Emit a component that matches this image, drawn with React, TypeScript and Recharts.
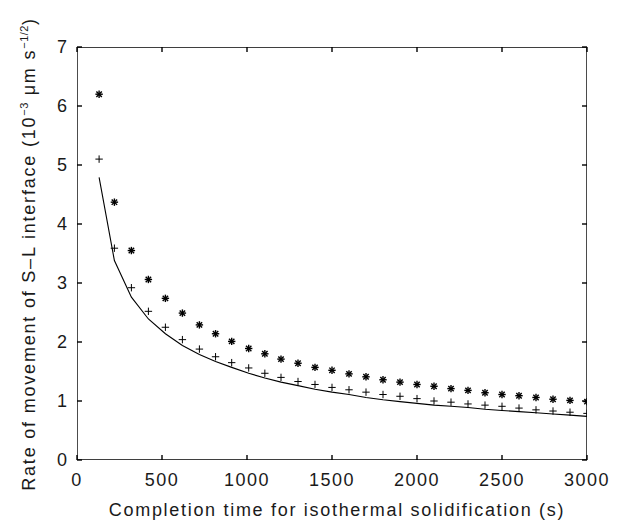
import {FC} from "react";
import {ComposedChart, Scatter, Line, XAxis, YAxis} from "recharts";

const times = [130, 220, 320, 420, 520, 620, 720, 815, 910, 1010, 1105, 1200, 1300, 1400, 1500,
  1600, 1700, 1800, 1900, 2000, 2100, 2200, 2300, 2400, 2500, 2600, 2700, 2800, 2900, 3000];
const starRates = [6.20, 4.37, 3.55, 3.06, 2.74, 2.49, 2.29, 2.14, 2.01, 1.89, 1.80, 1.71, 1.64, 1.57, 1.52,
  1.46, 1.41, 1.36, 1.32, 1.28, 1.25, 1.21, 1.18, 1.14, 1.11, 1.09, 1.06, 1.03, 1.01, 0.99];
const plusRates = [5.10, 3.59, 2.92, 2.52, 2.25, 2.04, 1.88, 1.75, 1.65, 1.56, 1.47, 1.40, 1.33, 1.28, 1.23,
  1.19, 1.15, 1.11, 1.08, 1.04, 1.00, 0.98, 0.95, 0.93, 0.91, 0.88, 0.85, 0.83, 0.81, 0.79];
const lineRates = [4.79, 3.38, 2.76, 2.39, 2.14, 1.94, 1.79, 1.67, 1.57, 1.47, 1.39, 1.32, 1.26, 1.20, 1.15,
  1.11, 1.06, 1.02, 0.99, 0.96, 0.93, 0.91, 0.89, 0.86, 0.84, 0.82, 0.80, 0.78, 0.76, 0.74];
const xTicks = [0, 500, 1000, 1500, 2000, 2500, 3000];
const yTicks = [0, 1, 2, 3, 4, 5, 6, 7];

const starData = times.map((t, i) => ({x: t, y: starRates[i]}));
const plusData = times.map((t, i) => ({x: t, y: plusRates[i]}));
const lineData = times.map((t, i) => ({x: t, y: lineRates[i]}));

// plot border, traced along the axis ends
const xMin = xTicks[0];
const xMax = xTicks[xTicks.length - 1];
const yMin = yTicks[0];
const yMax = yTicks[yTicks.length - 1];
const frameData = [
  {x: xMin, y: yMin},
  {x: xMin, y: yMax},
  {x: xMax, y: yMax},
  {x: xMax, y: yMin},
  {x: xMin, y: yMin},
];

const FONT = "'Liberation Sans', Arial, sans-serif";
const INK = "#1a1a1a";
const TICK = 5;

const Star = (props: any) => {
  const {cx, cy} = props;
  const r = 3.7;
  const d = 2.7;
  return (
    <g stroke="#000" strokeWidth={1.4}>
      <line x1={cx - r} y1={cy} x2={cx + r} y2={cy}/>
      <line x1={cx} y1={cy - r} x2={cx} y2={cy + r}/>
      <line x1={cx - d} y1={cy - d} x2={cx + d} y2={cy + d}/>
      <line x1={cx - d} y1={cy + d} x2={cx + d} y2={cy - d}/>
    </g>
  );
};

const Plus = (props: any) => {
  const {cx, cy} = props;
  const r = 3.7;
  return (
    <g stroke="#000" strokeWidth={1}>
      <line x1={cx - r} y1={cy} x2={cx + r} y2={cy}/>
      <line x1={cx} y1={cy - r} x2={cx} y2={cy + r}/>
    </g>
  );
};

// ticks point into the plot, gnuplot style
const BottomTick = (props: any) => {
  const {x, y, payload} = props;
  return (
    <g>
      <line x1={x} y1={y} x2={x} y2={y - TICK} stroke="#000" strokeWidth={1.4}/>
      <text x={x} y={y + 13} dy="0.71em" textAnchor="middle" fontFamily={FONT} fontSize={18}
            letterSpacing={1.5} fill={INK}>
        {payload.value}
      </text>
    </g>
  );
};

const LeftTick = (props: any) => {
  const {x, y, payload} = props;
  return (
    <g>
      <line x1={x} y1={y} x2={x + TICK} y2={y} stroke="#000" strokeWidth={1.4}/>
      <text x={x - 10} y={y} dy="0.36em" textAnchor="end" fontFamily={FONT} fontSize={18} fill={INK}>
        {payload.value}
      </text>
    </g>
  );
};

const TopTick = (props: any) => {
  const {x, y} = props;
  return <line x1={x} y1={y} x2={x} y2={y + TICK} stroke="#000" strokeWidth={1.4}/>;
};

const RightTick = (props: any) => {
  const {x, y} = props;
  return <line x1={x} y1={y} x2={x - TICK} y2={y} stroke="#000" strokeWidth={1.4}/>;
};

const XLabel = (props: any) => {
  const {viewBox} = props;
  const cx = viewBox.x + viewBox.width / 2 + 5;
  return (
    <text x={cx} y={viewBox.y + 56} textAnchor="middle" fontFamily={FONT} fontSize={18}
          letterSpacing={1.7} fill={INK}>
      Completion time for isothermal solidification (s)
    </text>
  );
};

const YLabel = () => (
  <text transform="translate(35,254) rotate(-90)" textAnchor="middle" fontFamily={FONT} fontSize={18}
        letterSpacing={1.8} fill={INK}>
    Rate of movement of S–L interface  (10
    <tspan dy={-7} fontSize={11} letterSpacing={0.5}>−3</tspan>
    <tspan dy={7}> μm s</tspan>
    <tspan dy={-7} fontSize={11} letterSpacing={0.5}>−1/2</tspan>
    <tspan dy={7}>)</tspan>
  </text>
);

const App: FC = () => {
  return (
    <div style={{position: "absolute", left: 0, top: 0}}>
      <ComposedChart width={629} height={529} margin={{top: 46, right: 41, bottom: 0, left: 17}}>
        <XAxis
          xAxisId={0}
          type="number"
          dataKey="x"
          domain={[xMin, xMax]}
          ticks={xTicks}
          height={69}
          tickSize={0}
          tickMargin={0}
          axisLine={false}
          tickLine={false}
          tick={BottomTick}
          label={{content: XLabel}}
          allowDataOverflow
        />
        <XAxis
          xAxisId="top"
          orientation="top"
          type="number"
          dataKey="x"
          domain={[xMin, xMax]}
          ticks={xTicks}
          height={1}
          tickSize={0}
          tickMargin={0}
          axisLine={false}
          tickLine={false}
          tick={TopTick}
          allowDataOverflow
        />
        <YAxis
          yAxisId={0}
          type="number"
          domain={[yMin, yMax]}
          ticks={yTicks}
          width={60}
          tickSize={0}
          tickMargin={0}
          axisLine={false}
          tickLine={false}
          tick={LeftTick}
          label={{content: YLabel}}
          allowDataOverflow
        />
        <YAxis
          yAxisId="right"
          orientation="right"
          type="number"
          domain={[yMin, yMax]}
          ticks={yTicks}
          width={1}
          tickSize={0}
          tickMargin={0}
          axisLine={false}
          tickLine={false}
          tick={RightTick}
          allowDataOverflow
        />
        <Line
          data={frameData}
          dataKey="y"
          type="linear"
          stroke="#000"
          strokeWidth={1.4}
          dot={false}
          activeDot={false}
          isAnimationActive={false}
        />
        <Line
          data={lineData}
          dataKey="y"
          type="linear"
          stroke="#000"
          strokeWidth={1.1}
          dot={false}
          activeDot={false}
          isAnimationActive={false}
        />
        <Scatter data={plusData} dataKey="y" shape={Plus} isAnimationActive={false}/>
        <Scatter data={starData} dataKey="y" shape={Star} isAnimationActive={false}/>
      </ComposedChart>
    </div>
  );
};

export default App;
